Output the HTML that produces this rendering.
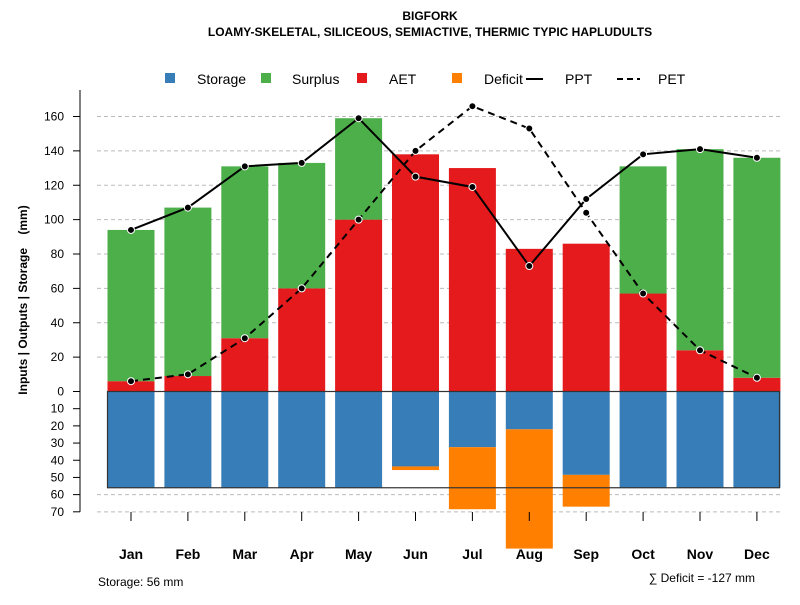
<!DOCTYPE html>
<html><head><meta charset="utf-8"><style>
body{margin:0;background:#fff}
svg{font-family:"Liberation Sans",sans-serif}
</style></head><body>
<svg id="c" width="800" height="600" viewBox="0 0 800 600">
<text x="430" y="20" text-anchor="middle" font-size="12" font-weight="bold">BIGFORK</text>
<text x="430" y="36" text-anchor="middle" font-size="12" font-weight="bold">LOAMY-SKELETAL, SILICEOUS, SEMIACTIVE, THERMIC TYPIC HAPLUDULTS</text>
<g id="legend">
<rect x="165" y="73" width="10" height="10" fill="#377eb8"/>
<text x="197" y="84" font-size="14">Storage</text>
<rect x="261" y="73" width="10" height="10" fill="#4daf4a"/>
<text x="292" y="84" font-size="14">Surplus</text>
<rect x="357" y="73" width="10" height="10" fill="#e41a1c"/>
<text x="389" y="84" font-size="14">AET</text>
<rect x="452" y="73" width="10" height="10" fill="#ff7f00"/>
<text x="484" y="84" font-size="14">Deficit</text>
<line x1="526" y1="79" x2="543" y2="79" stroke="#000" stroke-width="2"/>
<text x="565" y="84" font-size="14">PPT</text>
<line x1="617" y1="79" x2="640" y2="79" stroke="#000" stroke-width="2" stroke-dasharray="6,4"/>
<text x="658" y="84" font-size="14">PET</text>
</g>
<text transform="translate(27,300) rotate(-90)" text-anchor="middle" font-size="12" font-weight="bold" style="white-space:pre">Inputs | Outputs | Storage    (mm)</text>
<text x="98" y="586" font-size="12">Storage: 56 mm</text>
<text x="755" y="582" text-anchor="end" font-size="12">∑ Deficit = -127 mm</text>
<g id="plot"></g>
</svg>
<script>
const months=["Jan","Feb","Mar","Apr","May","Jun","Jul","Aug","Sep","Oct","Nov","Dec"];
const ppt=[94,107,131,133,159,125,119,73,112,138,141,136];
const pet=[6,10,31,60,100,140,166,153,104,57,24,8];
const aet=[6,9,31,60,100,138,130,83,86,57,24,8];
const surplus=[88,98,100,73,59,0,0,0,0,74,117,128];
const storage=[56,56,56,56,56,43.6,32.4,22,48.5,56,56,56];
const deficit=[0,0,0,0,0,2.1,36.1,69.4,18.5,0,0,0];
const posTicks=[0,20,40,60,80,100,120,140,160];
const negTicks=[10,20,30,40,50,60,70];
const maxStorage=56;
const NS="http://www.w3.org/2000/svg";
const g=document.getElementById("plot");
const y0=391.5,k=1.71875;
const Y=v=>y0-v*k;
const X=i=>131+i*56.9;
const bw=47;
function el(t,a){const e=document.createElementNS(NS,t);for(const n in a)e.setAttribute(n,a[n]);g.appendChild(e);return e;}
posTicks.forEach(t=>{if(t>0){const l=el("line",{x1:97,x2:782,y1:Y(t),y2:Y(t),stroke:"#bbb","stroke-dasharray":"4,3"});

}
const l2=el("line",{x1:73,x2:80,y1:Y(t),y2:Y(t),stroke:"#000"});


const tx=el("text",{x:64,y:Y(t)+4,"text-anchor":"end","font-size":12});tx.textContent=t;

});
negTicks.forEach(t=>{if(t>=60){const l=el("line",{x1:97,x2:782,y1:Y(-t),y2:Y(-t),stroke:"#bbb","stroke-dasharray":"4,3"});

}
const l2=el("line",{x1:73,x2:80,y1:Y(-t),y2:Y(-t),stroke:"#000"});


const tx=el("text",{x:64,y:Y(-t)+4,"text-anchor":"end","font-size":12});tx.textContent=t;

});
const ax=el("line",{x1:80,x2:80,y1:90,y2:Y(-70),stroke:"#000"});


months.forEach((m,i)=>{const x=X(i);
const b1=el("rect",{x:x-bw/2,y:Y(aet[i]),width:bw,height:aet[i]*k,fill:"#e41a1c"});


if(surplus[i]>0){const b2=el("rect",{x:x-bw/2,y:Y(aet[i]+surplus[i]),width:bw,height:surplus[i]*k,fill:"#4daf4a"});

}
const b3=el("rect",{x:x-bw/2,y:y0,width:bw,height:storage[i]*k,fill:"#377eb8"});


if(deficit[i]>0){const b4=el("rect",{x:x-bw/2,y:Y(-storage[i]),width:bw,height:deficit[i]*k,fill:"#ff7f00"});

}
const t=el("line",{x1:x,x2:x,y1:512,y2:521,stroke:"#000"});


const tx=el("text",{x:x,y:559,"text-anchor":"middle","font-size":14,"font-weight":"bold"});tx.textContent=m;

});
const box=el("rect",{x:107.5,y:y0,width:672,height:maxStorage*k,fill:"none",stroke:"#333","stroke-width":1.2});


function series(arr,name,dash){
const p=el("polyline",{points:arr.map((v,i)=>X(i)+","+Y(v)).join(" "),fill:"none",stroke:"#000","stroke-width":2,"stroke-dasharray":dash});


arr.forEach((v,i)=>{const c=el("circle",{cx:X(i),cy:Y(v),r:3.5,fill:"#000",stroke:"#fff","stroke-width":1});

});}
series(pet,"pet","7,5");
series(ppt,"ppt","none");
</script>
</body></html>
